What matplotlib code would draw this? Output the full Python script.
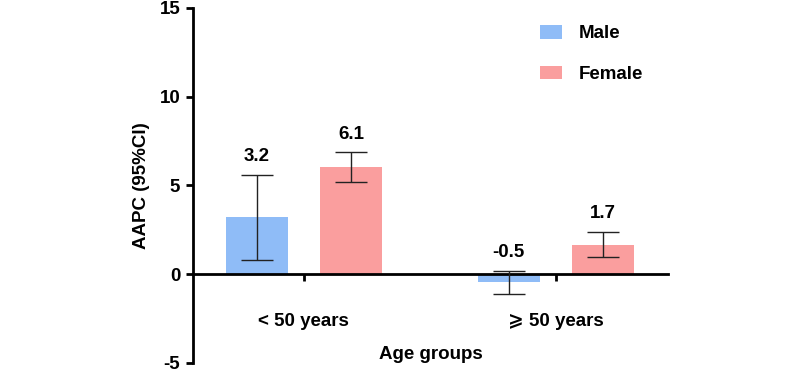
import matplotlib
matplotlib.use('Agg')
import matplotlib.pyplot as plt
import numpy as np

plt.rcParams['font.family'] = ['Liberation Sans', 'DejaVu Sans']
plt.rcParams['font.weight'] = 'bold'
plt.rcParams['axes.unicode_minus'] = False

# data
groups = ['< 50 years', '⩾ 50 years']
sexes = ['Male', 'Female']
aapc_male = [3.2, -0.45]
aapc_female = [6.05, 1.67]
ci_low_male = [0.8, -1.12]
ci_high_male = [5.58, 0.19]
ci_low_female = [5.18, 0.98]
ci_high_female = [6.87, 2.4]
labels_male = ['3.2', '-0.5']
labels_female = ['6.1', '1.7']
yticks = [-5, 0, 5, 10, 15]

colors = {'Male': '#8FBCF7', 'Female': '#FA9E9E'}
fs = 13.5

fig = plt.figure(figsize=(8, 3.71), dpi=100)
ax = fig.add_axes([0.241, 0.0216, 0.594, 0.957])

x = np.arange(len(groups))
width = 0.246
offset = 0.187

series = [
    ('Male', aapc_male, ci_low_male, ci_high_male, labels_male, -offset),
    ('Female', aapc_female, ci_low_female, ci_high_female, labels_female, offset),
]
for name, vals, lo, hi, labs, off in series:
    vals = np.array(vals)
    yerr = [vals - np.array(lo), np.array(hi) - vals]
    ax.bar(x + off, vals, width, color=colors[name], label=name, zorder=2)
    ax.errorbar(x + off, vals, yerr=yerr, fmt='none', ecolor='#222222',
                elinewidth=1.0, capsize=11.5, capthick=1.0, zorder=3)
    for xi, h, lab in zip(x + off, hi, labs):
        ax.annotate(lab, (xi, h), xytext=(0, 7), textcoords='offset points',
                    ha='center', va='bottom', fontsize=fs, fontweight='bold')

ax.set_xlim(-0.44, 1.444)
ax.set_ylim(-5, 15)
ax.set_yticks(yticks)
ax.set_xticks(x)
ax.set_xticklabels(groups)

ax.spines['top'].set_visible(False)
ax.spines['right'].set_visible(False)
ax.spines['left'].set_linewidth(2)
ax.spines['bottom'].set_linewidth(2)
ax.spines['bottom'].set_position(('data', 0))

ax.tick_params(axis='y', length=5, width=2, pad=4, labelsize=fs)
ax.tick_params(axis='x', length=5, width=2, pad=23, labelsize=fs)
for t in ax.get_xticklabels() + ax.get_yticklabels():
    t.set_fontweight('bold')

ax.set_ylabel('AAPC (95%CI)', fontsize=fs, fontweight='bold')
ax.yaxis.set_label_coords(-0.107, 0.5)
ax.yaxis.label.set_va('center')
ax.set_xlabel('Age groups', fontsize=fs, fontweight='bold')
ax.xaxis.set_label_coords(0.5, 0.0225)
ax.xaxis.label.set_va('center')

leg = ax.legend(loc='upper left', bbox_to_anchor=(0.695, 1.0), frameon=False,
                fontsize=fs, handlelength=1.15, handleheight=0.75,
                labelspacing=1.25, handletextpad=0.9, borderpad=0.4)
for t in leg.get_texts():
    t.set_fontweight('bold')

fig.savefig('out.png', dpi=100, facecolor='white')
